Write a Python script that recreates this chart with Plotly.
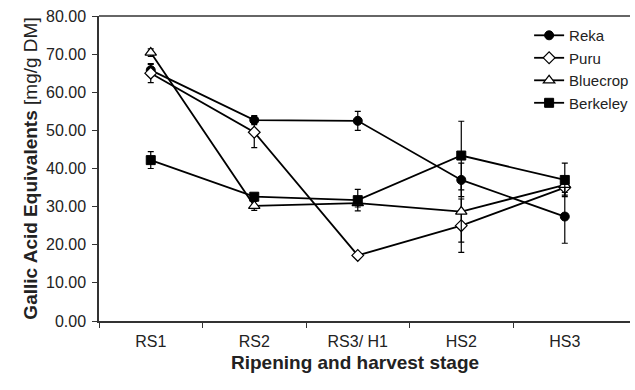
import plotly.graph_objects as go

stages = ["RS1", "RS2", "RS3/ H1", "HS2", "HS3"]
reka = [65.8, 52.7, 52.5, 37.0, 27.4]
reka_err = [1.5, 1.2, 2.5, 4.4, 7.0]
puru = [65.0, 49.5, 17.2, 25.0, 35.0]
puru_err = [2.5, 4.0, 0.5, 7.0, 2.0]
bluecrop = [70.4, 30.2, 30.9, 28.7, 35.7]
bluecrop_err = [1.0, 1.2, 1.0, 8.0, 2.0]
berkeley = [42.2, 32.6, 31.7, 43.4, 37.0]
berkeley_err = [2.2, 0.8, 2.8, 9.0, 4.4]

xs = list(range(len(stages)))

series = [
    ("Reka", reka, reka_err, dict(symbol="circle", size=9, color="black", line=dict(color="black", width=1))),
    ("Puru", puru, puru_err, dict(symbol="diamond", size=9, color="white", line=dict(color="black", width=1.2))),
    ("Bluecrop", bluecrop, bluecrop_err, dict(symbol="triangle-up", size=10, color="white", line=dict(color="black", width=1.2))),
    ("Berkeley", berkeley, berkeley_err, dict(symbol="square", size=9, color="black", line=dict(color="black", width=1))),
]

fig = go.Figure()
for name, ys, err, mk in series:
    fig.add_trace(go.Scatter(
        x=xs, y=ys, name=name, mode="lines+markers",
        line=dict(color="black", width=1.8),
        marker=mk,
        error_y=dict(type="data", array=err, visible=True, color="black", thickness=1.2, width=3),
    ))

fig.update_layout(
    width=635, height=390,
    margin=dict(l=99, r=1, t=16, b=69),
    paper_bgcolor="white", plot_bgcolor="white",
    font=dict(family="Liberation Sans, Arial", size=16, color="#222"),
    showlegend=True,
    legend=dict(x=0.81, y=0.99, xanchor="left", yanchor="top",
                bgcolor="rgba(0,0,0,0)", font=dict(size=15, color="#222"),
                tracegroupgap=0, itemwidth=30),
    shapes=[dict(type="line", xref="paper", yref="paper", x0=0, x1=1, y0=1, y1=1,
                 line=dict(color="#333", width=1.5))],
    annotations=[dict(text="<b>Ripening and harvest stage</b>", xref="paper", yref="paper",
                      x=0.482, y=-0.135, xanchor="center", yanchor="middle", showarrow=False,
                      font=dict(size=19, color="#222"))],
)

fig.update_xaxes(
    range=[-0.5, 4.63], tickmode="array", tickvals=xs, ticktext=stages,
    ticks="", showgrid=False, zeroline=False,
    showline=True, linecolor="#333", linewidth=1.5,
    tickfont=dict(size=16), ticklabelstandoff=5,
    minor=dict(tickmode="array", tickvals=[-0.5, 0.5, 1.5, 2.5, 3.5], ticks="outside", ticklen=5, tickcolor="#333", showgrid=False),
)
fig.update_yaxes(
    range=[0, 80], tickmode="array", tickvals=[0, 10, 20, 30, 40, 50, 60, 70, 80],
    tickformat=".2f", ticks="outside", ticklen=5, tickcolor="#333",
    showgrid=False, zeroline=False,
    showline=True, linecolor="#333", linewidth=1.5,
    tickfont=dict(size=16), ticklabelstandoff=3,
    title=dict(text="<b>Gallic Acid Equivalents</b> [mg/g DM]", font=dict(size=19, color="#222"), standoff=3),
)

fig.write_html("out.html")
